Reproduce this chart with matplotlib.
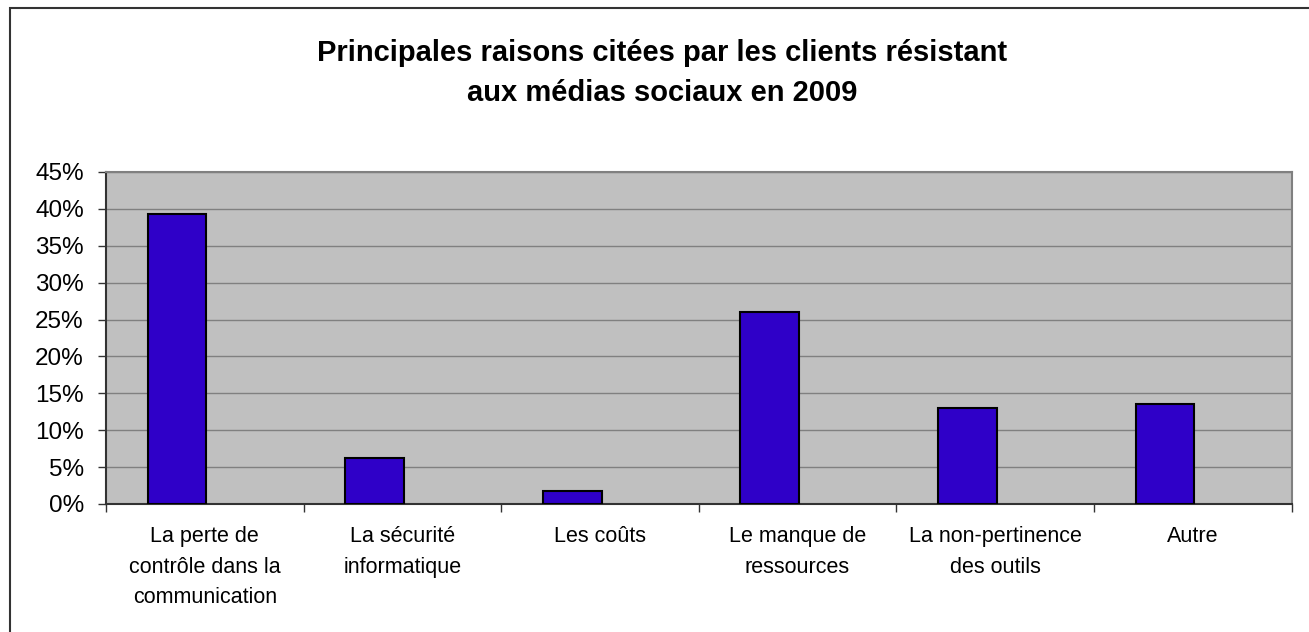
import matplotlib
matplotlib.use('Agg')
import matplotlib.pyplot as plt
from matplotlib.patches import Rectangle
from matplotlib.ticker import FuncFormatter

# Data
categories = [
    'La perte de\ncontrôle dans la\ncommunication',
    'La sécurité\ninformatique',
    'Les coûts',
    'Le manque de\nressources',
    'La non-pertinence\ndes outils',
    'Autre',
]
values = [39.3, 6.3, 1.7, 26.0, 13.0, 13.6]  # percent
title = 'Principales raisons citées par les clients résistant\naux médias sociaux en 2009'

plt.rcParams['font.family'] = ['Liberation Sans', 'DejaVu Sans']

fig = plt.figure(figsize=(13.09, 6.32), dpi=100)
ax = fig.add_axes([106 / 1309, 1 - 504 / 632, (1291.5 - 106) / 1309, (504 - 172) / 632])

# outer chart border (only top and left visible in the crop)
fig.patches.append(Rectangle((9.5 / 1309, -0.05), 1.1, 1.05 - 7.5 / 632,
                             transform=fig.transFigure, fill=False,
                             edgecolor='#333333', linewidth=1.5))

ax.set_facecolor('#C0C0C0')
x = range(len(values))
ax.bar([i + 0.211 for i in x], values, width=0.297, align='edge',
       color='#2F00C8', edgecolor='black', linewidth=1.5, zorder=3)

ax.set_xlim(0, len(values))
ax.set_ylim(0, 45)
ax.set_yticks(range(0, 50, 5))
ax.yaxis.set_major_formatter(FuncFormatter(lambda v, p: f'{int(v)}%'))
ax.grid(axis='y', color='#808080', linewidth=1, zorder=1)

ax.set_xticks(range(len(values) + 1))
ax.set_xticklabels([])
ax.set_xticks([i + 0.5 for i in x], minor=True)
ax.set_xticklabels(categories, minor=True, fontsize=15.5, linespacing=1.58)
ax.tick_params(axis='x', which='minor', length=0, pad=16)
ax.tick_params(axis='x', which='major', length=6, width=1, color='#333333')
ax.tick_params(axis='y', length=6, width=1, color='#333333', labelsize=17.5, pad=10)

for side in ['top', 'right']:
    ax.spines[side].set_color('#808080')
    ax.spines[side].set_linewidth(1.5)
for side in ['left', 'bottom']:
    ax.spines[side].set_color('#333333')
    ax.spines[side].set_linewidth(1.5)

fig.text(662 / 1309, 1 - 73 / 632, title, ha='center', va='center',
         fontsize=21, fontweight='bold', linespacing=1.55)

fig.savefig('out.png', dpi=100)
